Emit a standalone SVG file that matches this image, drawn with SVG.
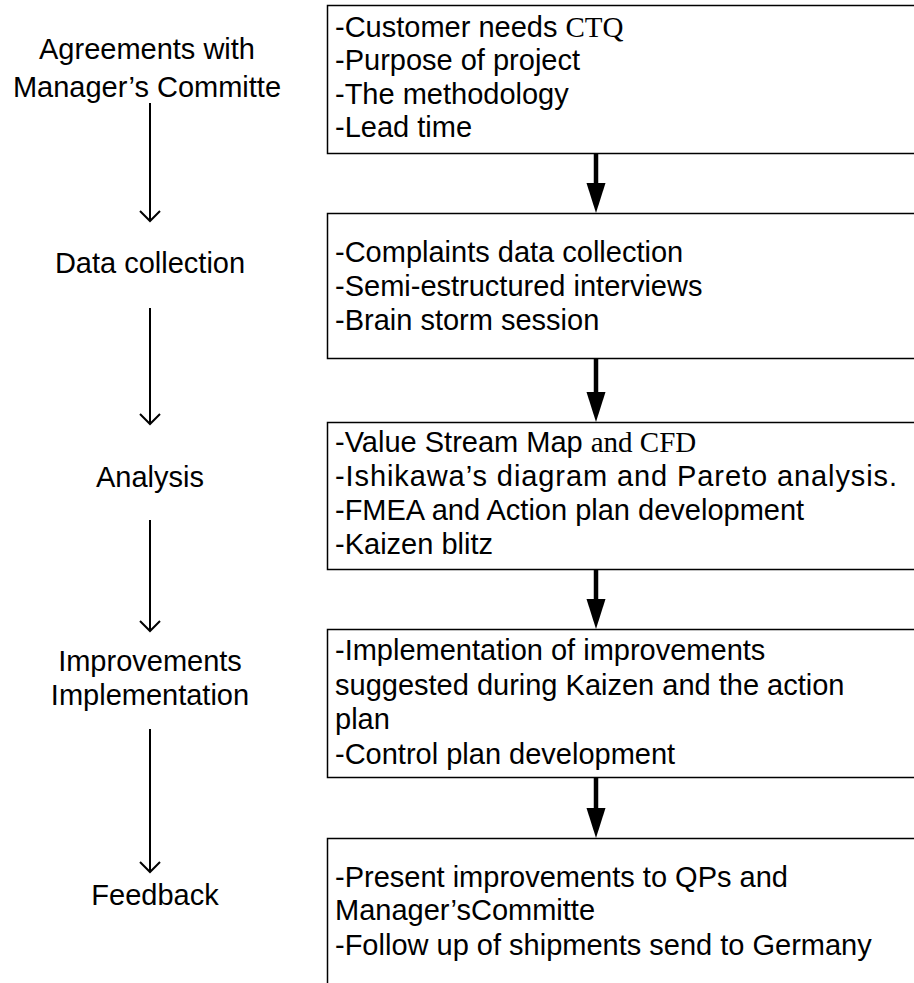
<svg xmlns="http://www.w3.org/2000/svg" width="914" height="983" viewBox="0 0 914 983">
<defs>
<style>
.box{fill:#fff;stroke:#000;stroke-width:1.5}
.t{font-family:"Liberation Sans",Arial,sans-serif;font-size:29px;fill:#000}
.lbl{font-family:"Liberation Sans",Arial,sans-serif;font-size:29px;fill:#000;text-anchor:middle}
.serif{font-family:"Liberation Serif","Times New Roman",serif}
.thin{stroke:#000;stroke-width:2;fill:none}
.thick{stroke:#000;stroke-width:4.5;fill:none}
.head{fill:#000}
</style>
</defs>
<rect width="914" height="983" fill="#fff"/>

<g id="label-agreements">
<text class="lbl" x="147" y="59">Agreements with</text>
<text class="lbl" x="147" y="97">Manager’s Committe</text>
</g>
<g id="label-data">
<text class="lbl" x="150" y="273">Data collection</text>
</g>
<g id="label-analysis">
<text class="lbl" x="150" y="487">Analysis</text>
</g>
<g id="label-improvements">
<text class="lbl" x="150" y="671">Improvements</text>
<text class="lbl" x="150" y="705">Implementation</text>
</g>
<g id="label-feedback">
<text class="lbl" x="155" y="905">Feedback</text>
</g>

<g id="box-agreements">
<rect class="box" x="327.5" y="5.5" width="600" height="148"/>
<text class="t" x="335" y="37">-Customer needs <tspan class="serif">CTQ</tspan></text>
<text class="t" x="335" y="70">-Purpose of project</text>
<text class="t" x="335" y="104">-The methodology</text>
<text class="t" x="335" y="137">-Lead time</text>
</g>
<g id="box-data">
<rect class="box" x="327.5" y="213.5" width="600" height="145"/>
<text class="t" x="335" y="262">-Complaints data collection</text>
<text class="t" x="335" y="296">-Semi-estructured interviews</text>
<text class="t" x="335" y="330">-Brain storm session</text>
</g>
<g id="box-analysis">
<rect class="box" x="327.5" y="422.5" width="600" height="147"/>
<text class="t" x="335" y="452">-Value Stream Map <tspan class="serif">and CFD</tspan></text>
<text class="t" x="335" y="486" textLength="562" lengthAdjust="spacing">-Ishikawa’s diagram and Pareto analysis.</text>
<text class="t" x="335" y="520">-FMEA and Action plan development</text>
<text class="t" x="335" y="554">-Kaizen blitz</text>
</g>
<g id="box-improvements">
<rect class="box" x="327.5" y="629.5" width="600" height="148"/>
<text class="t" x="335" y="660">-Implementation of improvements</text>
<text class="t" x="335" y="695">suggested during Kaizen and the action</text>
<text class="t" x="335" y="729">plan</text>
<text class="t" x="335" y="764">-Control plan development</text>
</g>
<g id="box-feedback">
<rect class="box" x="327.5" y="838.5" width="600" height="200"/>
<text class="t" x="335" y="887">-Present improvements to QPs and</text>
<text class="t" x="335" y="920">Manager’sCommitte</text>
<text class="t" x="335" y="955">-Follow up of shipments send to Germany</text>
</g>

<g id="connectors">
<line class="thin" x1="150" y1="103" x2="150" y2="221"/>
<path class="thin" d="M140,211 L150,221 L160,211"/>
<line class="thin" x1="150" y1="308" x2="150" y2="424"/>
<path class="thin" d="M140,414 L150,424 L160,414"/>
<line class="thin" x1="150" y1="520" x2="150" y2="631"/>
<path class="thin" d="M140,621 L150,631 L160,621"/>
<line class="thin" x1="150" y1="729" x2="150" y2="872"/>
<path class="thin" d="M140,862 L150,872 L160,862"/>

<line class="thick" x1="596" y1="153" x2="596" y2="186"/>
<path class="head" d="M586.5,183 L605.5,183 L596,213 Z"/>
<line class="thick" x1="596" y1="358" x2="596" y2="394"/>
<path class="head" d="M586.5,392 L605.5,392 L596,422 Z"/>
<line class="thick" x1="596" y1="570" x2="596" y2="601"/>
<path class="head" d="M586.5,599 L605.5,599 L596,629 Z"/>
<line class="thick" x1="596" y1="777" x2="596" y2="810"/>
<path class="head" d="M586.5,808 L605.5,808 L596,838 Z"/>
</g>
</svg>
